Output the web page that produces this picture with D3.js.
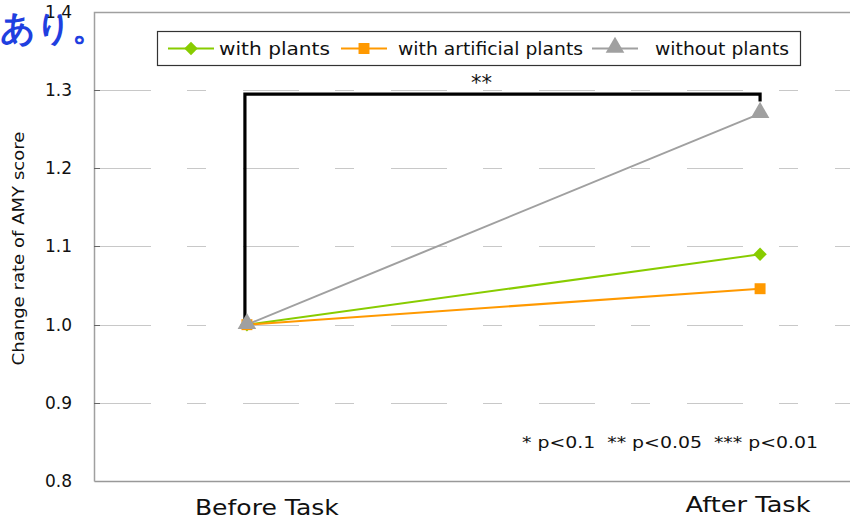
<!DOCTYPE html>
<html><head><meta charset="utf-8">
<script src="https://cdn.jsdelivr.net/npm/d3@7"></script>
<style>
body{margin:0;background:#fff;}
text{font-family:"DejaVu Sans","Liberation Sans",Arial,sans-serif;}
</style></head>
<body><svg id="c" width="850" height="519"></svg>
<script>
const categories = ["Before Task", "After Task"];
const withPlants = [1.0, 1.09];
const withArtificial = [1.0, 1.046];
const withoutPlants = [1.0, 1.27];
const yTicks = [0.8, 0.9, 1.0, 1.1, 1.2, 1.3, 1.4];
const seriesNames = ["with plants", "with artificial plants", "without plants"];
const seriesColors = ["#88cc00", "#ff9900", "#a0a0a0"];
const noteText = "* p<0.1  ** p<0.05  *** p<0.01";
const sigLabel = "**";
const yTitle = "Change rate of AMY score";
const cornerText = "あり。";

const svg = d3.select("#c");
const L = 94, T = 12, B = 481, R = 913;
const x = d3.scalePoint().domain(categories).range([L, R]).padding(0.298);
const y = d3.scaleLinear().domain([0.8, 1.4]).range([B, T]);

// gridlines (dashed)
svg.append("g").selectAll("line").data(yTicks.filter(v => v > 0.8 && v < 1.4)).join("line")
  .attr("x1", L + 1).attr("x2", 850).attr("y1", d => Math.round(y(d)) + 0.5).attr("y2", d => Math.round(y(d)) + 0.5)
  .attr("stroke", "#c8c8c8").attr("stroke-width", 1.2).attr("stroke-dasharray", "56,36,19,37");

// frame
svg.append("path").attr("d", `M${L + 0.5},${B + 0.5}V${T + 0.5}H850`).attr("fill", "none").attr("stroke", "#a0a0a0").attr("stroke-width", 1.5);
svg.append("path").attr("d", `M${L + 0.5},${B + 0.5}H850`).attr("fill", "none").attr("stroke", "#999").attr("stroke-width", 1.5);

// y axis ticks and labels
const yAxis = d3.axisLeft(y).tickValues(yTicks).tickFormat(d3.format(".1f")).tickSize(0).tickPadding(22);
const ga = svg.append("g").attr("transform", `translate(${L},0)`).call(yAxis);
ga.select(".domain").remove();
ga.selectAll("text").attr("font-size", 17).attr("fill", "#111").attr("font-family", "'Liberation Sans',Arial,sans-serif");
svg.append("g").selectAll("line").data(yTicks.filter(v => v > 0.8 && v < 1.4)).join("line")
  .attr("x1", L).attr("x2", L + 6).attr("y1", d => Math.round(y(d)) + 0.5).attr("y2", d => Math.round(y(d)) + 0.5)
  .attr("stroke", "#666").attr("stroke-width", 1);

// y title
svg.append("text").attr("transform", `translate(24,${(y(1.3) + y(0.9)) / 2 + 2}) rotate(-90)`)
  .attr("text-anchor", "middle").attr("font-size", 15).attr("fill", "#111")
  .attr("textLength", 234).attr("lengthAdjust", "spacingAndGlyphs").text(yTitle);

// x labels
const xl = svg.append("g");
xl.append("text").attr("x", x(categories[0]) + 20).attr("y", 515).attr("text-anchor", "middle").attr("font-size", 21).attr("fill", "#111")
  .attr("textLength", 144).attr("lengthAdjust", "spacingAndGlyphs").text(categories[0]);
xl.append("text").attr("x", x(categories[1]) - 12).attr("y", 512).attr("text-anchor", "middle").attr("font-size", 21).attr("fill", "#111")
  .attr("textLength", 125).attr("lengthAdjust", "spacingAndGlyphs").text(categories[1]);

// significance bracket
const bracketY = y(1.295);
svg.append("path").attr("d", `M${x(categories[0]) - 2},${y(1.0)}V${bracketY}H${x(categories[1])}V${y(withoutPlants[1]) - 12}`)
  .attr("fill", "none").attr("stroke", "#000").attr("stroke-width", 3.2);
svg.append("text").attr("x", (x(categories[0]) + x(categories[1])) / 2 - 22).attr("y", bracketY - 4)
  .attr("text-anchor", "middle").attr("font-size", 21).attr("fill", "#111").text(sigLabel);

// series
const allSeries = [withPlants, withArtificial, withoutPlants];
const symbols = [d3.symbolSquare, d3.symbolSquare, d3.symbolTriangle];
const symSizes = [90, 120, 150];
const symRot = [45, 0, 0];
const line = d3.line().x((d, i) => x(categories[i])).y(d => y(d));
allSeries.forEach((vals, s) => {
  svg.append("path").datum(vals).attr("d", line).attr("fill", "none").attr("stroke", seriesColors[s]).attr("stroke-width", 2);
});
allSeries.forEach((vals, s) => {
  svg.append("g").selectAll("path").data(vals).join("path")
    .attr("transform", (d, i) => `translate(${x(categories[i])},${y(d) + (s === 2 ? -1 : 0)}) rotate(${symRot[s]})`)
    .attr("d", d3.symbol().type(symbols[s]).size(symSizes[s]))
    .attr("fill", seriesColors[s]);
});

// legend
const lg = svg.append("g");
lg.append("rect").attr("x", 157.5).attr("y", 31.5).attr("width", 643).attr("height", 34).attr("fill", "#fff").attr("stroke", "#333").attr("stroke-width", 1.2);
const legX = [168, 341, 592];
const legTextX = [219, 398, 655];
const legTextW = [111, 185, 134];
seriesNames.forEach((n, s) => {
  lg.append("line").attr("x1", legX[s]).attr("x2", legX[s] + 46).attr("y1", 48.5).attr("y2", 48.5).attr("stroke", seriesColors[s]).attr("stroke-width", 2);
  lg.append("path").attr("transform", `translate(${legX[s] + 23},${s === 2 ? 47.5 : 48.5}) rotate(${symRot[s]})`).attr("d", d3.symbol().type(symbols[s]).size(symSizes[s])).attr("fill", seriesColors[s]);
  lg.append("text").attr("x", legTextX[s]).attr("y", 55).attr("font-size", 17).attr("fill", "#111")
    .attr("textLength", legTextW[s]).attr("lengthAdjust", "spacingAndGlyphs").text(n);
});

// note
svg.append("text").attr("x", 522).attr("y", 448).attr("font-size", 16).attr("fill", "#111").attr("xml:space", "preserve").style("white-space", "pre")
  .attr("textLength", 296).attr("lengthAdjust", "spacingAndGlyphs").text(noteText);

// corner Japanese text
svg.append("text").attr("x", 0).attr("y", 40).attr("font-size", 35).attr("font-weight", "bold")
  .attr("font-family", "'Noto Sans CJK JP',sans-serif").attr("fill", "#1f3fe0").text(cornerText);
</script></body></html>
